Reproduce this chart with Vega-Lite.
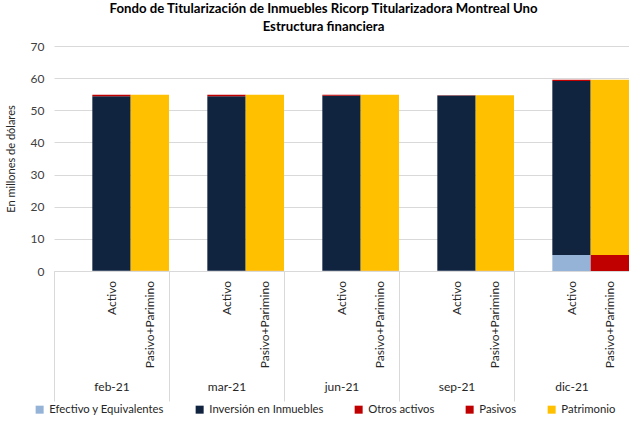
{
  "$schema": "https://vega.github.io/schema/vega-lite/v6.json",
  "width": 575,
  "height": 225,
  "autosize": {"type": "none"},
  "padding": {"left": 54, "top": 46, "right": 0, "bottom": 150},
  "background": "white",
  "config": {
    "font": "Lato",
    "view": {"stroke": null}
  },
  "title": {
    "text": ["Fondo de Titularización de Inmuebles Ricorp Titularizadora Montreal  Uno", "Estructura financiera"],
    "font": "Lato",
    "fontSize": 13.2,
    "fontWeight": "bold",
    "color": "#000000",
    "anchor": "middle",
    "frame": "group",
    "offset": 6,
    "dx": -18,
    "lineHeight": 18
  },
  "data": {
    "values": [
      {"mes": "feb-21", "tipo": "Activo", "categoria": "Efectivo y Equivalentes", "valor": 0.05},
      {"mes": "feb-21", "tipo": "Activo", "categoria": "Inversión en Inmuebles", "valor": 54.35},
      {"mes": "feb-21", "tipo": "Activo", "categoria": "Otros activos", "valor": 0.4},
      {"mes": "feb-21", "tipo": "Pasivo+Parimino", "categoria": "Pasivos", "valor": 0.05},
      {"mes": "feb-21", "tipo": "Pasivo+Parimino", "categoria": "Patrimonio", "valor": 54.75},
      {"mes": "mar-21", "tipo": "Activo", "categoria": "Efectivo y Equivalentes", "valor": 0.05},
      {"mes": "mar-21", "tipo": "Activo", "categoria": "Inversión en Inmuebles", "valor": 54.35},
      {"mes": "mar-21", "tipo": "Activo", "categoria": "Otros activos", "valor": 0.4},
      {"mes": "mar-21", "tipo": "Pasivo+Parimino", "categoria": "Pasivos", "valor": 0.05},
      {"mes": "mar-21", "tipo": "Pasivo+Parimino", "categoria": "Patrimonio", "valor": 54.75},
      {"mes": "jun-21", "tipo": "Activo", "categoria": "Efectivo y Equivalentes", "valor": 0.05},
      {"mes": "jun-21", "tipo": "Activo", "categoria": "Inversión en Inmuebles", "valor": 54.45},
      {"mes": "jun-21", "tipo": "Activo", "categoria": "Otros activos", "valor": 0.3},
      {"mes": "jun-21", "tipo": "Pasivo+Parimino", "categoria": "Pasivos", "valor": 0.05},
      {"mes": "jun-21", "tipo": "Pasivo+Parimino", "categoria": "Patrimonio", "valor": 54.75},
      {"mes": "sep-21", "tipo": "Activo", "categoria": "Efectivo y Equivalentes", "valor": 0.05},
      {"mes": "sep-21", "tipo": "Activo", "categoria": "Inversión en Inmuebles", "valor": 54.55},
      {"mes": "sep-21", "tipo": "Activo", "categoria": "Otros activos", "valor": 0.1},
      {"mes": "sep-21", "tipo": "Pasivo+Parimino", "categoria": "Pasivos", "valor": 0.05},
      {"mes": "sep-21", "tipo": "Pasivo+Parimino", "categoria": "Patrimonio", "valor": 54.65},
      {"mes": "dic-21", "tipo": "Activo", "categoria": "Efectivo y Equivalentes", "valor": 5.0},
      {"mes": "dic-21", "tipo": "Activo", "categoria": "Inversión en Inmuebles", "valor": 54.1},
      {"mes": "dic-21", "tipo": "Activo", "categoria": "Otros activos", "valor": 0.4},
      {"mes": "dic-21", "tipo": "Pasivo+Parimino", "categoria": "Pasivos", "valor": 5.0},
      {"mes": "dic-21", "tipo": "Pasivo+Parimino", "categoria": "Patrimonio", "valor": 54.5}
    ]
  },
  "encoding": {
    "x": {
      "field": "mes",
      "type": "nominal",
      "sort": ["feb-21", "mar-21", "jun-21", "sep-21", "dic-21"],
      "scale": {"paddingInner": 0, "paddingOuter": 0},
      "axis": {
        "title": null,
        "labelAngle": 0,
        "labelFontSize": 12,
        "labelColor": "#262626",
        "labelBaseline": "top",
        "labelPadding": -20,
        "tickBand": "extent",
        "tickSize": 130,
        "tickColor": "#d9d9d9",
        "domainColor": "#d9d9d9",
        "grid": false
      }
    },
    "xOffset": {
      "field": "tipo",
      "type": "nominal",
      "scale": {"domain": [" ", "Activo", "Pasivo+Parimino"], "paddingInner": 0, "paddingOuter": 0}
    }
  },
  "layer": [
    {
      "mark": {"type": "bar"},
      "encoding": {
        "y": {
          "field": "valor",
          "type": "quantitative",
          "aggregate": "sum",
          "stack": "zero",
          "scale": {"domain": [0, 70], "nice": false},
          "axis": {
            "title": "En millones  de dólares",
            "titleFontSize": 11,
            "titleFontWeight": "normal",
            "titleColor": "#262626",
            "titlePadding": 14,
            "values": [0, 10, 20, 30, 40, 50, 60, 70],
            "labelOverlap": false,
            "labelFontSize": 12,
            "labelColor": "#404040",
            "labelPadding": 10,
            "ticks": false,
            "domain": false,
            "grid": true,
            "gridColor": "#d9d9d9"
          }
        },
        "color": {
          "field": "categoria",
          "type": "nominal",
          "scale": {
            "domain": ["Efectivo y Equivalentes", "Inversión en Inmuebles", "Otros activos", "Pasivos", "Patrimonio"],
            "range": ["#95b3d7", "#10233f", "#c00000", "#c00000", "#ffc000"]
          },
          "legend": {
            "title": null,
            "orient": "none",
            "legendX": -20,
            "legendY": 358,
            "direction": "horizontal",
            "symbolType": "square",
            "symbolSize": 64,
            "symbolStrokeWidth": 0,
            "labelFontSize": 11.3,
            "labelColor": "#262626",
            "labelOffset": 4,
            "columnPadding": 29
          }
        },
        "order": {"field": "categoria", "sort": "ascending"}
      }
    },
    {
      "transform": [{"aggregate": [], "groupby": ["mes", "tipo"]}],
      "mark": {"type": "text", "angle": 270, "align": "right", "baseline": "middle", "dx": -10, "fontSize": 12, "color": "#262626"},
      "encoding": {
        "y": {
          "datum": 0,
          "type": "quantitative",
          "axis": {
            "title": "En millones  de dólares",
            "titleFontSize": 11,
            "titleFontWeight": "normal",
            "titleColor": "#262626",
            "titlePadding": 14,
            "values": [0, 10, 20, 30, 40, 50, 60, 70],
            "labelOverlap": false,
            "labelFontSize": 12,
            "labelColor": "#404040",
            "labelPadding": 10,
            "ticks": false,
            "domain": false,
            "grid": true,
            "gridColor": "#d9d9d9"
          }
        },
        "text": {"field": "tipo"}
      }
    }
  ]
}
